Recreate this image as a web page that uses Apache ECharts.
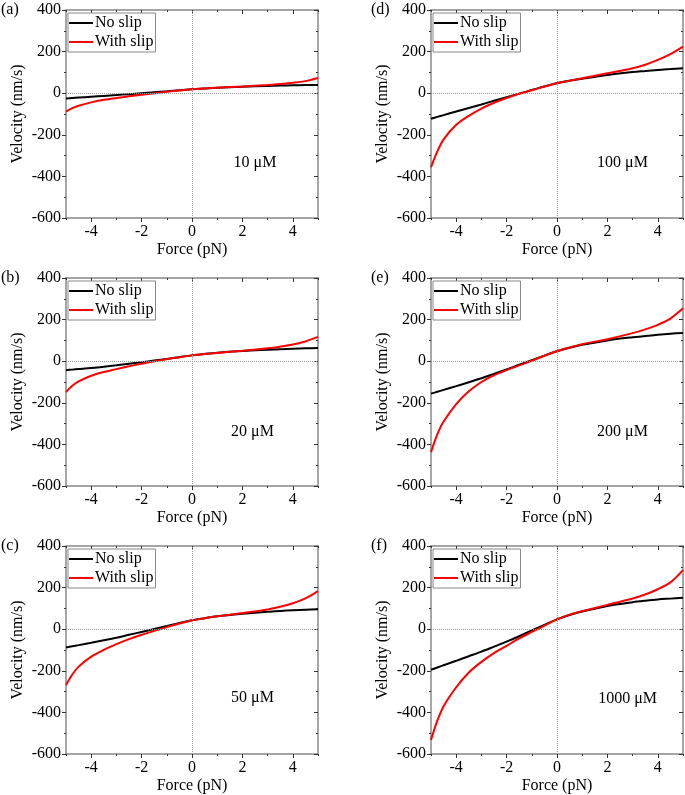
<!DOCTYPE html>
<html><head><meta charset="utf-8">
<script src="https://cdn.jsdelivr.net/npm/echarts@6/dist/echarts.min.js"></script>
<style>html,body{margin:0;padding:0;background:#fff}#c{width:685px;height:795px}</style>
</head><body><div id="c"></div>
<script>
// Force values (pN)
const force = [-5, -4.75, -4.5, -4, -3.5, -3, -2.5, -2, -1.5, -1, -0.5, 0, 0.5, 1, 2, 3, 3.5, 4, 4.5, 5];

// Velocity (nm/s)
const noSlipA   = [-25, -23, -21, -17, -13, -9, -4.5, 0, 4.5, 9, 14, 19, 22.5, 26, 31, 35, 36.5, 38, 39, 40];
const withSlipA = [-88, -72, -60, -44, -32, -23, -15, -7, 0, 7, 13.5, 19, 23, 26.5, 32, 39, 44, 50, 58, 73];
const noSlipB   = [-43, -40.5, -38, -33, -26.5, -20, -12.5, -5, 3, 11, 19.5, 28, 35, 41, 49, 55, 57.5, 60, 62, 63];
const withSlipB = [-148, -118, -97, -70, -52, -38, -24, -12, -0.5, 10, 19.5, 28, 34.5, 40, 50, 62, 70, 80, 95, 117];
const noSlipC   = [-88, -82, -76.5, -65, -53, -41, -27, -13, 1, 15, 30, 43, 53, 62, 74, 84, 88, 91.5, 94, 96];
const withSlipC = [-268, -218, -180, -132, -99, -72, -48, -27, -8, 10, 27, 43, 53, 62, 78, 95, 108, 125, 148, 183];
const noSlipD   = [-123, -114, -105.5, -88, -71, -54, -36.5, -19, -2, 15, 32.5, 48, 60, 70, 88, 102, 107, 112, 116, 120];
const withSlipD = [-356, -280, -222, -152, -109, -74, -46, -23, -3, 14, 32, 48, 60.5, 72, 96, 120, 137, 160, 188, 224];
const noSlipE   = [-156, -147, -138, -120, -101, -82, -61, -40, -17, 5, 27, 48, 65, 79, 100, 115, 121, 127, 132, 136];
const withSlipE = [-437, -352, -290, -206, -145, -100, -68, -43, -20, 2, 26, 48, 66, 82, 106, 135, 153, 175, 205, 254];
const noSlipF   = [-195, -184, -173, -152, -130, -108, -84, -60, -34, -6, 21, 47, 68, 85, 112, 130, 137, 143, 147, 151];
const withSlipF = [-532, -440, -370, -279, -208, -157, -115, -80, -44, -13, 17, 47, 70, 87, 117, 148, 167, 192, 225, 284];

const panelLabels = ['(a)', '(b)', '(c)', '(d)', '(e)', '(f)'];
const concLabels = ['10 \u03BCM', '20 \u03BCM', '50 \u03BCM', '100 \u03BCM', '200 \u03BCM', '1000 \u03BCM'];
const concPos = [[2.5, -335], [2.4, -340], [2.4, -330], [2.6, -335], [2.6, -340], [2.8, -335]];
const xMajorTicks = [-4, -2, 0, 2, 4];
const xMinorTicks = [-5, -3, -1, 1, 3, 5];
const seriesNames = ['No slip', 'With slip'];
const noSlipAll = [noSlipA, noSlipB, noSlipC, noSlipD, noSlipE, noSlipF];
const withSlipAll = [withSlipA, withSlipB, withSlipC, withSlipD, withSlipE, withSlipF];

const FONT = "'Liberation Serif', 'Times New Roman', serif";
const AX = '#888';
const TK = '#333';
const lefts = [66, 431];
const tops = [10, 278, 546];
const W = 252, H = 208;

const grid = [], xAxis = [], yAxis = [], series = [], legend = [], title = [];

for (let p = 0; p < 6; p++) {
  const col = Math.floor(p / 3), row = p % 3;
  const gl = lefts[col], gt = tops[row];
  grid.push({ left: gl, top: gt, width: W, height: H, containLabel: false });
  const xi = xAxis.length, yi = yAxis.length;
  const lineStyle = { color: AX, width: 1.5 };
  xAxis.push({
    gridIndex: p, type: 'value', min: -5, max: 5, position: 'bottom',
    name: 'Force (pN)', nameLocation: 'middle', nameGap: 24,
    nameTextStyle: { fontFamily: FONT, fontSize: 16, color: '#000' },
    axisLine: { show: true, onZero: false, lineStyle },
    axisTick: { show: true, length: 4, customValues: xMajorTicks, lineStyle: { color: TK } },
    axisLabel: { show: true, customValues: xMajorTicks, margin: 6, fontFamily: FONT, fontSize: 16, color: '#000' },
    splitLine: { show: false }
  });
  xAxis.push({
    gridIndex: p, type: 'value', min: -5, max: 5, position: 'bottom',
    axisLine: { show: false, onZero: false },
    axisTick: { show: true, length: 2, customValues: xMinorTicks, lineStyle: { color: TK } },
    axisLabel: { show: false }, splitLine: { show: false }
  });
  xAxis.push({
    gridIndex: p, type: 'value', min: -5, max: 5, position: 'top',
    axisLine: { show: true, onZero: false, lineStyle },
    axisTick: { show: true, inside: true, length: 4, customValues: xMajorTicks, lineStyle: { color: TK } },
    axisLabel: { show: false }, splitLine: { show: false }
  });
  xAxis.push({
    gridIndex: p, type: 'value', min: -5, max: 5, position: 'top',
    axisLine: { show: false, onZero: false },
    axisTick: { show: true, inside: true, length: 2, customValues: xMinorTicks, lineStyle: { color: TK } },
    axisLabel: { show: false }, splitLine: { show: false }
  });
  yAxis.push({
    gridIndex: p, type: 'value', min: -600, max: 400, interval: 200, position: 'left',
    name: 'Velocity (nm/s)', nameLocation: 'middle', nameGap: 40,
    nameTextStyle: { fontFamily: FONT, fontSize: 16, color: '#000' },
    axisLine: { show: true, onZero: false, lineStyle },
    axisTick: { show: true, length: 4, lineStyle: { color: TK } },
    minorTick: { show: true, splitNumber: 2, length: 2, lineStyle: { color: TK } },
    axisLabel: { show: true, margin: 5, fontFamily: FONT, fontSize: 16, color: '#000' },
    splitLine: { show: false }, minorSplitLine: { show: false }
  });
  yAxis.push({
    gridIndex: p, type: 'value', min: -600, max: 400, interval: 200, position: 'right',
    axisLine: { show: true, onZero: false, lineStyle },
    axisTick: { show: true, inside: true, length: 4, lineStyle: { color: TK } },
    minorTick: { show: true, splitNumber: 2, length: 2, lineStyle: { color: TK } },
    axisLabel: { show: false }, splitLine: { show: false }, minorSplitLine: { show: false }
  });

  const ns = noSlipAll[p], ws = withSlipAll[p];
  series.push({
    name: seriesNames[0], type: 'line', xAxisIndex: xi, yAxisIndex: yi,
    data: force.map((f, i) => [f, ns[i]]), symbol: 'none', smooth: 0.3,
    lineStyle: { color: '#000', width: 2 }, itemStyle: { color: '#000' }, z: 3,
    markLine: {
      silent: true, symbol: ['none', 'none'], label: { show: false }, animation: false,
      lineStyle: { type: 'dotted', color: '#999', width: 1 },
      data: [{ xAxis: 0 }, { yAxis: 0 }]
    }
  });
  series.push({
    name: seriesNames[1], type: 'line', xAxisIndex: xi, yAxisIndex: yi,
    data: force.map((f, i) => [f, ws[i]]), symbol: 'none', smooth: 0.3,
    lineStyle: { color: '#ff0000', width: 2 }, itemStyle: { color: '#ff0000' }, z: 4
  });
  series.push({
    name: 'conc' + p, type: 'scatter', xAxisIndex: xi, yAxisIndex: yi,
    data: [concPos[p]], symbolSize: 1, itemStyle: { color: 'rgba(0,0,0,0)' }, silent: true,
    label: { show: true, position: 'inside', formatter: concLabels[p], fontFamily: FONT, fontSize: 16, color: '#000', opacity: 1 }
  });
  legend.push({
    data: seriesNames, left: gl + 2, top: gt + 3, orient: 'vertical',
    icon: 'rect', itemWidth: 24, itemHeight: 2, itemGap: 3, padding: [2, 2, 2, 1],
    borderColor: '#888', borderWidth: 1, backgroundColor: '#fff', selectedMode: false,
    textStyle: { fontFamily: FONT, fontSize: 16, color: '#000', padding: [0, 0, 0, -3] }
  });
  title.push({
    text: panelLabels[p], left: col === 0 ? 1 : 371, top: gt - 8, padding: 0,
    textStyle: { fontFamily: FONT, fontSize: 16, fontWeight: 'normal', color: '#000' }
  });
}

const chart = echarts.init(document.getElementById('c'), null, { renderer: 'canvas' });
chart.setOption({ animation: false, backgroundColor: '#fff', grid, xAxis, yAxis, series, legend, title });
</script>
</body></html>
